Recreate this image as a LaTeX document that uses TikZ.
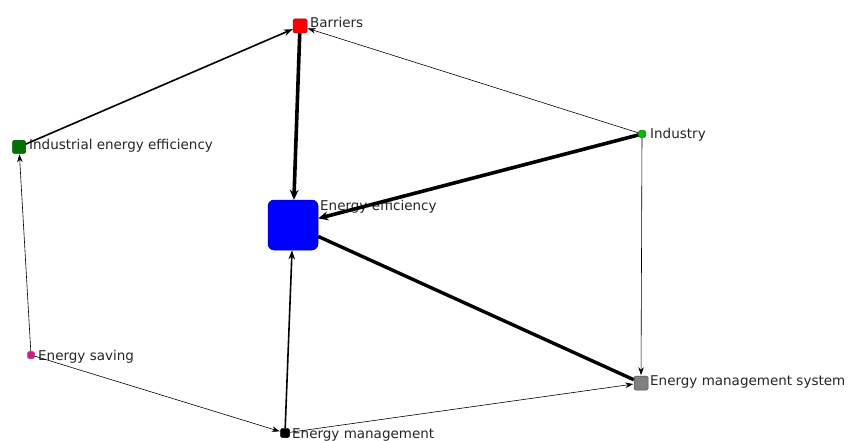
\documentclass[tikz,border=0pt]{standalone}
\usepackage{fontspec}
\setmainfont{DejaVu Sans}
\usetikzlibrary{arrows.meta}
\begin{document}
\begin{tikzpicture}[x=1pt,y=-1pt,
  vert/.style={draw=#1!60!black, fill=#1, rounded corners=1.5pt, inner sep=0pt, line width=0.5pt},
  lbl/.style={anchor=west, inner sep=0pt, font=\fontsize{13.5}{15}\selectfont, text=black!85},
  link/.style={line width=0.6pt, -{Stealth[length=8pt,width=5.5pt]}, shorten >=0.5pt},
  mid/.style={line width=1.6pt, -{Stealth[length=9pt,width=6.5pt]}},
  heavy/.style={line width=3.6pt, -{Stealth[length=10pt,width=9pt]}},
  plain/.style={line width=3.4pt}]
\useasboundingbox (0,0) rectangle (854,441);
\fill[white] (0,0) rectangle (854,441);

% vertices
\node[vert=red, minimum size=14pt] (bar) at (300,26) {};
\node[vert=blue, minimum size=50pt, rounded corners=6pt] (ee) at (293,225) {};
\node[vert=green!75!black, minimum size=7pt] (ind) at (642,134) {};
\node[vert=gray, minimum size=14pt] (ems) at (641,383) {};
\node[vert=black, minimum size=9pt, rounded corners=2pt] (em) at (285,433) {};
\node[vert=magenta!80!violet, minimum size=7pt] (es) at (31,355) {};
\node[vert=green!45!black, minimum size=13pt] (iee) at (19,147) {};

% labels
\node[lbl] at (310,22) {Barriers};
\node[lbl] at (320,207) {Energy efficiency};
\node[lbl] at (650,135) {Industry};
\node[lbl] at (650,382) {Energy management system};
\node[lbl] at (292,435) {Energy management};
\node[lbl] at (38,357) {Energy saving};
\node[lbl] at (29,146) {Industrial energy efficiency};

% links
\draw[heavy] (bar) -- (ee);
\draw[heavy] (ind) -- (ee);
\draw[plain] (ems) -- (ee);
\draw[mid] (em) -- (ee);
\draw[mid] (iee) -- (bar);
\draw[link] (ind) -- (bar);
\draw[link] (ind) -- (ems);
\draw[link] (em) -- (ems);
\draw[link] (es) -- (iee);
\draw[link] (es) -- (em);
\end{tikzpicture}
\end{document}
